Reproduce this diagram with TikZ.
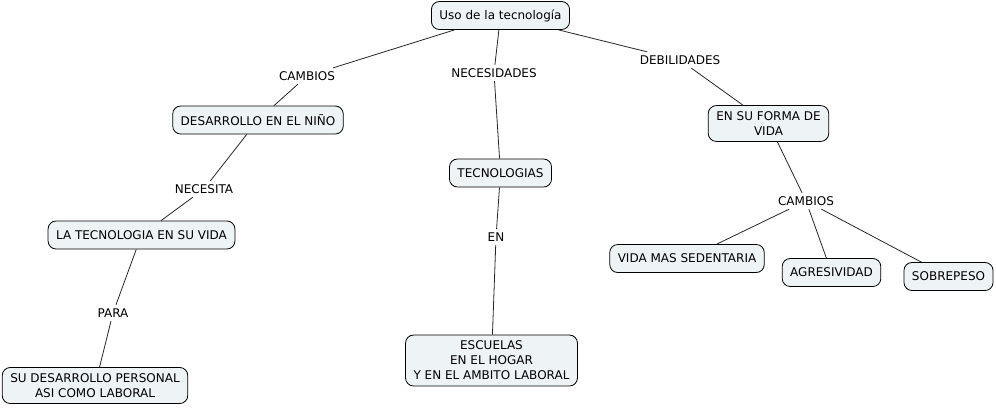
\documentclass[tikz,border=0pt]{standalone}
\usepackage{fontspec}
\setmainfont{DejaVu Sans}

\begin{document}
\begin{tikzpicture}[x=0.75pt, y=-0.75pt, font=\fontsize{9}{11.2}\selectfont,
  concept/.style={draw=black, line width=0.6pt, rounded corners=6pt, fill=boxfill,
    align=center, inner xsep=6pt, inner ysep=4.5pt, minimum height=21pt},
  linkword/.style={inner sep=2.5pt, fill=white},
  link/.style={line width=0.6pt, draw=black!85}]
\definecolor{boxfill}{HTML}{EEF3F5}
\useasboundingbox (0,0) rectangle (996,408);

% concepts
\node[concept] (uso) at (500.5,15.5) {Uso de la tecnología};
\node[concept] (ninio) at (258,120) {DESARROLLO EN EL NIÑO};
\node[concept] (tecvida) at (141.5,235) {LA TECNOLOGIA EN SU VIDA};
\node[concept] (personal) at (95,385.5) {SU DESARROLLO PERSONAL\\ASI COMO LABORAL};
\node[concept] (tecno) at (500.5,173) {TECNOLOGIAS};
\node[concept] (escuelas) at (491.5,360.5) {ESCUELAS\\EN EL HOGAR\\Y EN EL AMBITO LABORAL};
\node[concept] (forma) at (768.5,123.5) {EN SU FORMA DE\\VIDA};
\node[concept] (sedent) at (687,258.5) {VIDA MAS SEDENTARIA};
\node[concept] (agres) at (831.5,272.5) {AGRESIVIDAD};
\node[concept] (sobre) at (948.5,276.5) {SOBREPESO};

% linking words
\node[linkword] (cambiosA) at (307,76) {CAMBIOS};
\node[linkword] (necesid) at (494,73) {NECESIDADES};
\node[linkword] (debil) at (680,60) {DEBILIDADES};
\node[linkword] (necesita) at (204,189) {NECESITA};
\node[linkword] (en) at (496,237) {EN};
\node[linkword] (para) at (113,313) {PARA};
\node[linkword] (cambiosB) at (806,201) {CAMBIOS};

% connections
\draw[link] (uso) -- (cambiosA) -- (ninio);
\draw[link] (uso) -- (necesid) -- (tecno);
\draw[link] (uso) -- (debil) -- (forma);
\draw[link] (ninio) -- (necesita) -- (tecvida);
\draw[link] (tecvida) -- (para) -- (personal);
\draw[link] (tecno) -- (en) -- (escuelas);
\draw[link] (forma) -- (cambiosB);
\draw[link] (cambiosB) -- (sedent);
\draw[link] (cambiosB) -- (agres);
\draw[link] (cambiosB) -- (sobre);
\end{tikzpicture}
\end{document}
